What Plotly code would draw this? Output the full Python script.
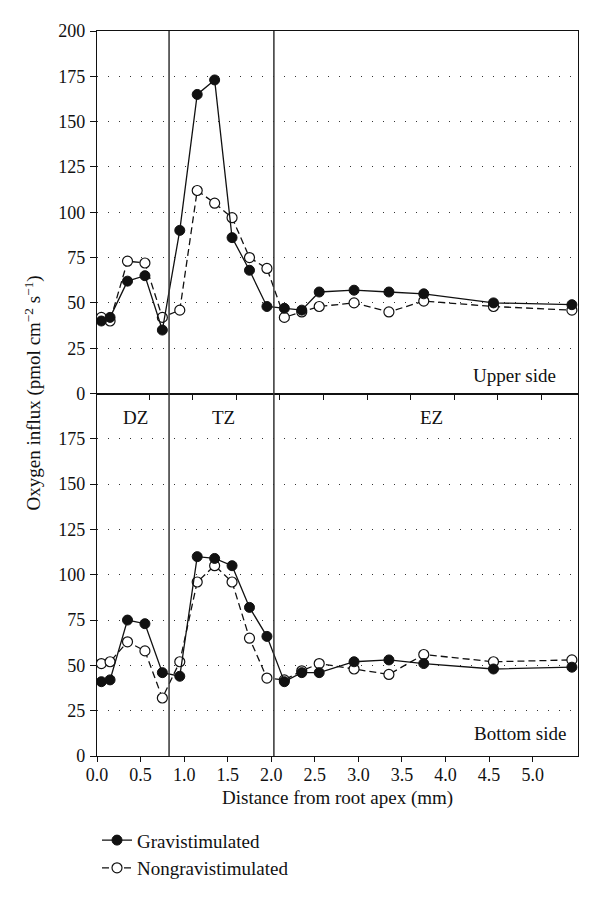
import plotly.graph_objects as go

# Distance from root apex (mm)
distance = [0.05, 0.15, 0.35, 0.55, 0.75, 0.95, 1.15, 1.35, 1.55, 1.75, 1.95,
            2.15, 2.35, 2.55, 2.95, 3.35, 3.75, 4.55, 5.45]

# Upper side
upper_grav = [40, 42, 62, 65, 35, 90, 165, 173, 86, 68, 48, 47, 46, 56, 57, 56, 55, 50, 49]
upper_nongrav = [42, 40, 73, 72, 42, 46, 112, 105, 97, 75, 69, 42, 45, 48, 50, 45, 51, 48, 46]

# Bottom side
bottom_grav = [41, 42, 75, 73, 46, 44, 110, 109, 105, 82, 66, 41, 46, 46, 52, 53, 51, 48, 49]
bottom_nongrav = [51, 52, 63, 58, 32, 52, 96, 105, 96, 65, 43, 42, 47, 51, 48, 45, 56, 52, 53]

zone_bounds = [0.827, 2.03]
zone_labels = ["DZ", "TZ", "EZ"]
zone_label_x = [0.44, 1.447, 3.84]

x_tick_vals = [0.0, 0.5, 1.0, 1.5, 2.0, 2.5, 3.0, 3.5, 4.0, 4.5, 5.0]
x_tick_text = ["0.0", "0.5", "1.0", "1.5", "2.0", "2.5", "3.0", "3.5", "4.0", "4.5", "5.0"]
upper_x_ticks = [0.6, 1.1, 1.6, 2.1, 2.6, 3.1, 3.6, 4.1, 4.6, 5.1]
upper_y_ticks = [0, 25, 50, 75, 100, 125, 150, 175, 200]
bottom_y_ticks = [0, 25, 50, 75, 100, 125, 150, 175]

FONT = "Liberation Serif"
BLACK = "#111111"

fig = go.Figure()

def add_pair(xa, ya, grav, nongrav, show):
    fig.add_trace(go.Scatter(
        x=distance, y=nongrav, xaxis=xa, yaxis=ya, mode="lines+markers",
        name="Nongravistimulated", showlegend=show, legendrank=2,
        line=dict(color=BLACK, width=1.3, dash="7px,4px"),
        marker=dict(symbol="circle", size=10, color="white",
                    line=dict(color=BLACK, width=1.2))))
    fig.add_trace(go.Scatter(
        x=distance, y=grav, xaxis=xa, yaxis=ya, mode="lines+markers",
        name="Gravistimulated", showlegend=show, legendrank=1,
        line=dict(color=BLACK, width=1.3),
        marker=dict(symbol="circle", size=10, color=BLACK,
                    line=dict(color=BLACK, width=1))))

add_pair("x", "y", upper_grav, upper_nongrav, False)
add_pair("x2", "y2", bottom_grav, bottom_nongrav, True)

tickfont = dict(family=FONT, size=18, color=BLACK)
common_x = dict(range=[0, 5.52], showline=True, linecolor=BLACK, linewidth=1.3,
                mirror=True, showgrid=False, zeroline=False, ticks="outside",
                ticklen=5, tickcolor=BLACK, tickwidth=1.2, tickfont=tickfont)
common_y = dict(range=[0, 200], showline=True, linecolor=BLACK, linewidth=1.3,
                mirror=True, showgrid=True, gridcolor="#333333", gridwidth=1,
                griddash="1px,10px", zeroline=False, ticks="outside",
                ticklen=6, tickcolor=BLACK, tickwidth=1.2, tickfont=tickfont,
                ticklabelstandoff=1)

fig.update_layout(
    width=600, height=899,
    margin=dict(l=97, r=22, t=31, b=143),
    paper_bgcolor="white", plot_bgcolor="white",
    font=dict(family=FONT, size=18, color=BLACK),
    xaxis=dict(common_x, anchor="y", tickvals=upper_x_ticks, showticklabels=False),
    yaxis=dict(common_y, domain=[0.5, 1], anchor="x", tickvals=upper_y_ticks),
    xaxis2=dict(common_x, anchor="y2", tickvals=x_tick_vals, ticktext=x_tick_text,
                ticklabelstandoff=-3),
    yaxis2=dict(common_y, domain=[0, 0.5], anchor="x2", tickvals=bottom_y_ticks),
    legend=dict(x=0.0, y=-0.09, xanchor="left", yanchor="top",
                font=dict(family=FONT, size=19, color=BLACK),
                bgcolor="rgba(0,0,0,0)", tracegroupgap=0, itemwidth=30),
    showlegend=True,
)

for xb in zone_bounds:
    fig.add_shape(type="line", xref="x2", yref="paper", x0=xb, x1=xb, y0=0, y1=1,
                  line=dict(color="#333333", width=1.5))

for lab, lx in zip(zone_labels, zone_label_x):
    fig.add_annotation(x=lx, y=186.6, xref="x2", yref="y2", text=lab, showarrow=False,
                       font=dict(family=FONT, size=19, color=BLACK))

fig.add_annotation(x=4.79, y=10.1, xref="x", yref="y", text="Upper side", showarrow=False,
                   font=dict(family=FONT, size=19, color=BLACK))
fig.add_annotation(x=4.85, y=12.3, xref="x2", yref="y2", text="Bottom side", showarrow=False,
                   font=dict(family=FONT, size=19, color=BLACK))

fig.add_annotation(x=-0.133, y=0.5, xref="paper", yref="paper", textangle=-90,
                   xanchor="center", yanchor="middle",
                   text="Oxygen influx (pmol cm<sup>−2</sup> s<sup>−1</sup>)", showarrow=False,
                   font=dict(family=FONT, size=19, color=BLACK))
fig.add_annotation(x=0.5, y=-0.076, xref="paper", yref="paper",
                   text="Distance from root apex (mm)", showarrow=False,
                   font=dict(family=FONT, size=19, color=BLACK))

fig.write_html("out.html", config={"displayModeBar": False},
               post_script="document.body.style.margin='0';")
